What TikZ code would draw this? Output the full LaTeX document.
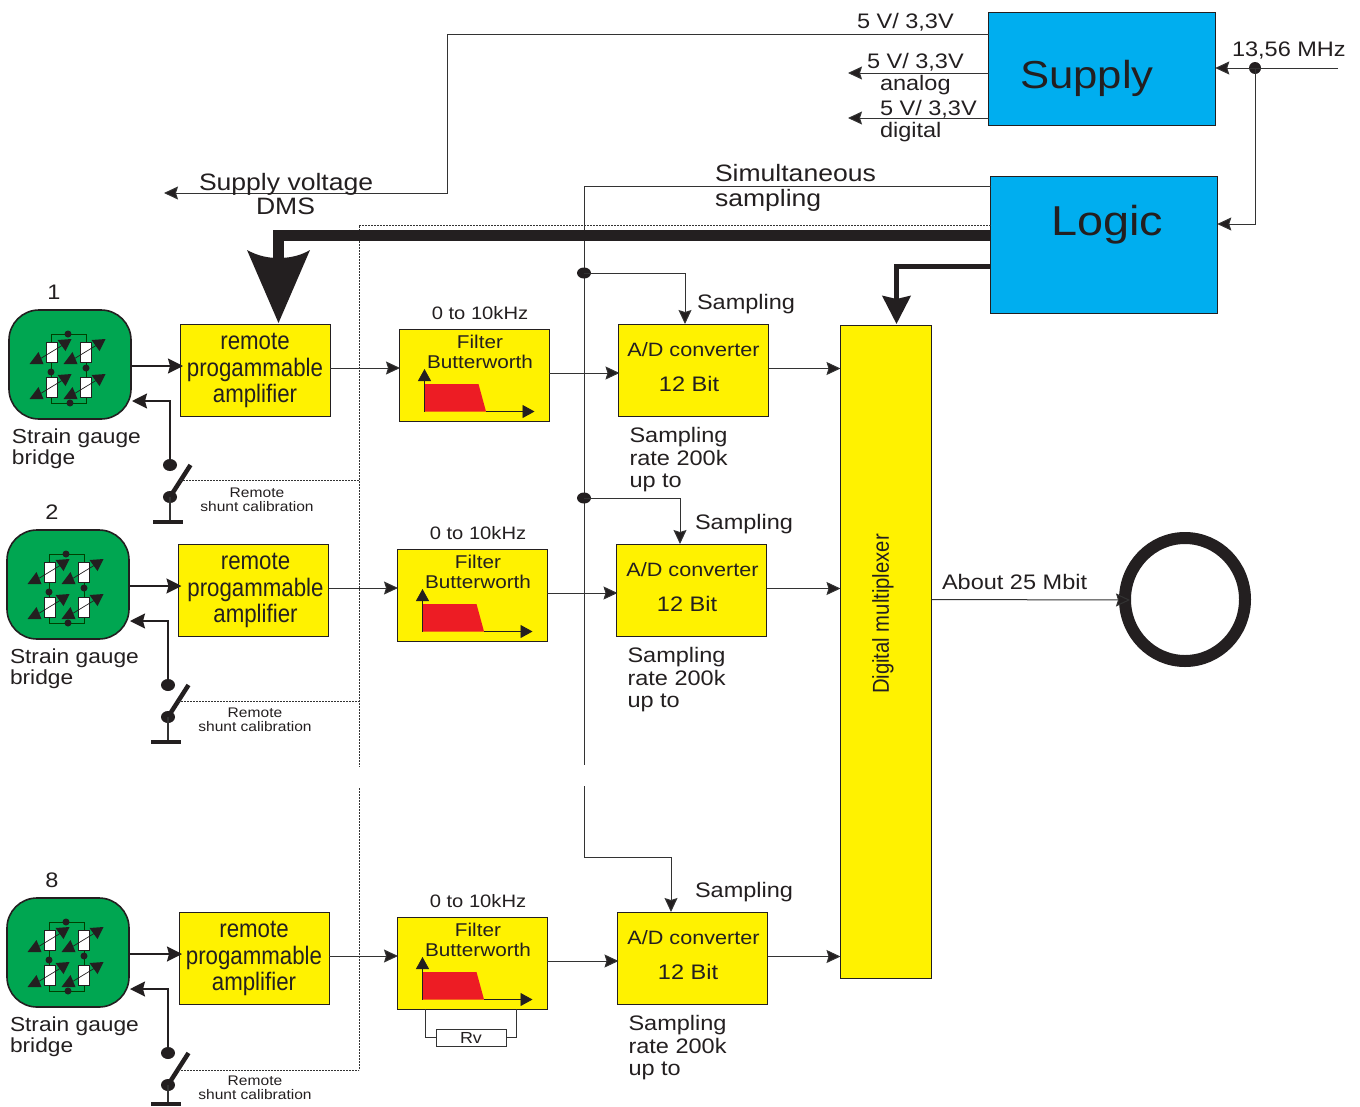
\documentclass[tikz,border=0pt]{standalone}
\usepackage{fontspec}
\setmainfont{Liberation Sans}
\newfontfamily\widef[FakeStretch=1.12]{Liberation Sans}
\newfontfamily\narrowf[FakeStretch=0.88]{Liberation Sans}
\usetikzlibrary{arrows.meta,calc,shapes.geometric}
\definecolor{ink}{HTML}{231F20}
\definecolor{wire}{HTML}{333333}
\definecolor{ybox}{HTML}{FFF200}
\definecolor{bbox}{HTML}{00AEEF}
\definecolor{gbox}{HTML}{00A651}
\definecolor{rfill}{HTML}{ED1C24}
\newcommand\fsz[2]{#1\fontsize{#2}{#2}\selectfont}
\newcommand\ampin{}
\tikzset{
  x=1pt,y=-1pt,
  every node/.style={inner sep=0pt,outer sep=0pt,text=ink},
  lab/.style={font=\fsz{\widef}{#1}},
  lab/.default=21,
  lbl/.style={lab=#1,anchor=base west},
  lbl/.default=21,
  ybx/.style={draw=ink,line width=1pt,fill=ybox},
  bbx/.style={draw=ink,line width=.8pt,fill=bbox},
  ampbx/.style={ybx,minimum width=150pt,minimum height=92pt,align=center,font=\fsz{\narrowf}{25.3},
     execute at begin node={\setlength{\baselineskip}{26.5pt}}},
  filbx/.style={ybx,minimum width=150pt,minimum height=92pt},
  adcbx/.style={ybx,minimum width=150pt,minimum height=92pt},
  bridge/.style={draw=ink,line width=1.6pt,fill=gbox,rounded corners=30pt,minimum width=122pt,minimum height=109pt},
  res/.style={draw=ink,line width=.4pt,fill=white,minimum width=11pt,minimum height=20pt},
  bdot/.style={circle,fill=ink,minimum size=7pt},
  sdot/.style={fill=ink,ellipse,minimum width=14pt,minimum height=12pt},
  wr/.style={draw=wire,line width=1pt},
  arr/.style={wr,-{Stealth[length=14pt,width=13pt,inset=2pt,fill=ink]}},
  thk/.style={draw=ink,line width=2pt,-{Stealth[length=15pt,width=15pt,inset=2pt]}},
  dsh/.style={draw=wire,line width=.8pt,dash pattern=on 2pt off 1pt},
}
% one strain gauge: resistor with diagonal double-ended arrow
\newcommand\gauge[3]{%
  \node[res] (#1) at (#2,#3) {};
  \draw[ink,line width=.7pt] ($(#1)+(-15,9)$) -- ($(#1)+(13,-8)$);
  \fill[ink] ($(#1)+(-22,12)$) -- ($(#1)+(-8,12)$) -- ($(#1)+(-13,0)$) -- cycle;
  \fill[ink] ($(#1)+(6,-12)$) -- ($(#1)+(20,-13)$) -- ($(#1)+(14,-1)$) -- cycle;
}
% #1 suffix, #2 dx, #3 dy, #4 extra dx amp, #5 extra dx adc, #6 ground y, #7 extra dx A/D text
\newcommand\channel[7]{%
\begin{scope}[shift={(#2,#3)}]
  \node[bridge] (br#1) at (70,364.5) {};
  \draw[draw=black!75!green,line width=.8pt] (51,352) -- (51,334) -- (86,334) -- (86,403) -- (51,403) -- (51,352);
  \gauge{ga#1}{51.5}{352}\gauge{gb#1}{85.5}{352}\gauge{gc#1}{51.5}{387}\gauge{gd#1}{85.5}{387}
  \node[bdot] (da#1) at (68,334) {};
  \node[bdot] (db#1) at (51,372) {};
  \node[bdot] (dc#1) at (86,368) {};
  \node[bdot] (dd#1) at (70,403) {};
  \node[lab=21] (num#1) at (54,292) {#1};
  \node[lab=20.3,anchor=west,align=left,execute at begin node={\setlength{\baselineskip}{21.5pt}}] (sg#1) at (12,448.5) {Strain gauge\\bridge};
  \node[ampbx] (amp#1) at (255+#4,370.5) {\ampin remote\\\ampin progammable\\\ampin amplifier};
  \node[filbx] (fil#1) at (474,375) {};
  \node[lab=18.5] (filt#1) at (480,342) {Filter};
  \node[lab=18.5] (filb#1) at (480,362) {Butterworth};
  \node[lab=18] (frq#1) at (480,313) {0 to 10kHz};
  \fill[rfill] (424,384) -- (478.5,384) -- (486,411.5) -- (424,411.5) -- cycle;
  \draw[ink,line width=.8pt,-{Triangle[length=12pt,width=13pt]}] (424.5,411.5) -- (424.5,369);
  \draw[ink,line width=.8pt,-{Triangle[length=12pt,width=13pt]}] (486,411.5) -- (534.5,411.5);
  \node[adcbx] (adc#1) at (693.5+#5,370) {};
  \node[lab=19.3] (adca#1) at (693.5+#5+#7,349.5) {A/D converter};
  \node[lab=21] (adcb#1) at (689+#5,383.5) {12 Bit};
  \node[lab=21,anchor=north west,align=left,execute at begin node={\setlength{\baselineskip}{22.5pt}}] (sr#1) at (629.5+#5,427.5) {Sampling\\rate 200k\\up to};
  \node[lab=13.9] (rm#1) at (257,492.5) {Remote};
  \node[lab=13.9] (sc#1) at (257,506.5) {shunt calibration};
  % switch
  \node[sdot] (st#1) at (170,465) {};
  \node[sdot] (sb#1) at (170,497) {};
  \coordinate (lv#1) at (190.5,465);
  \coordinate (gnd#1) at (168,#6);
  \draw[ink,line width=4.5pt] (sb#1.center) -- (lv#1);
  \draw[wire,line width=1.6pt] (sb#1.center) -- (sb#1.center |- gnd#1);
  \draw[ink,line width=4pt] (153,#6) -- (183,#6);
  \coordinate (fb#1) at (132,401);
  \draw[thk] (st#1.center) |- (fb#1);
  \coordinate (ba#1) at ([yshift=-1.5pt]br#1.east);
  \coordinate (bb#1) at ([xshift=3pt]ba#1 -| amp#1.west);
  \draw[thk] (ba#1) -- (bb#1);
  \coordinate (aa#1) at ([yshift=2.5pt]amp#1.east);
  \coordinate (ab#1) at ([xshift=1pt]aa#1 -| fil#1.west);
  \draw[arr] (aa#1) -- (ab#1);
  \coordinate (fa#1) at ([yshift=2pt]fil#1.east);
  \coordinate (fc#1) at ([xshift=1pt]fa#1 -| adc#1.west);
  \draw[arr] (fa#1) -- (fc#1);
\end{scope}}
\begin{document}
\begin{tikzpicture}
\path[use as bounding box] (0,0) rectangle (1360,1106);
% power and logic blocks
\node[bbx,minimum width=226.5pt,minimum height=113pt] (supply) at (1102,69) {};
\node[lab=39,anchor=base west] (supplyt) at (1020,88) {Supply};
\node[bbx,minimum width=226.5pt,minimum height=137pt] (logic) at (1104,244.5) {};
\node[lab=41.8,anchor=base west] (logict) at (1051,235) {Logic};
\node[ybx,minimum width=91pt,minimum height=653pt] (mux) at (886,651.5) {};
\node[rotate=90,font=\fsz{\narrowf}{23}] (muxt) at (883,614) {Digital multiplexer};
\node[ellipse,draw=ink,line width=12pt,minimum width=120pt,minimum height=123pt] (ring) at (1185,599.5) {};
% dashed control bus
\coordinate (d0) at (359,225);
\coordinate (d1) at (359,767);
\coordinate (d2) at (359,788);
\coordinate (d3) at (359,1070);
\coordinate (dr) at (logic.west |- d0);
\draw[dsh] (dr) -- (d0) -- (d1);
\draw[dsh] (d2) -- (d3);
% channels
\channel{1}{0}{0}{0}{0}{522}{0}
\renewcommand\ampin{\hspace*{4pt}}
\channel{2}{-2}{220}{0.5}{0}{522}{1}
\renewcommand\ampin{}
\channel{8}{-2}{588}{1}{1}{516}{1}
\coordinate (ds1) at (180,480);
\coordinate (ds2) at (178,701);
\coordinate (ds8) at (178,1070);
\draw[dsh] (ds1) -- (ds1 -| d0);
\draw[dsh] (ds2) -- (ds2 -| d0);
\draw[dsh] (ds8) -- (d3);
% Rv
\node[draw=wire,line width=.9pt,minimum width=70pt,minimum height=17pt,font=\fsz{\widef}{16}] (rv) at (471,1037.5) {Rv};
\coordinate (rvl) at (425,1009);
\coordinate (rvr) at (516,1009);
\draw[wr] (rvl) |- (rv.west);
\draw[wr] (rvr) |- (rv.east);
% ADC to mux
\foreach \s in {1,2,8}{
  \coordinate (q\s) at ([yshift=1.5pt]adc\s.east);
  \coordinate (r\s) at (q\s -| mux.west);
  \draw[arr] (q\s) -- (r\s);
}
% Mux to output
\coordinate (mo) at (mux.east |- ring.center);
\coordinate (mi) at (1130,600);
\draw[arr] (mo) -- (mi);
\node[lbl=21] (mbit) at (942,589) {About 25 Mbit};
% supply wires
\coordinate (s1) at (supply.west |- 0,34);
\coordinate (s1a) at (447,34);
\coordinate (s1b) at (447,193);
\coordinate (s1c) at (164,193);
\draw[arr] (s1) -- (s1a) -- (s1b) -- (s1c);
\node[lbl=23.7] (sv1) at (199,190) {Supply voltage};
\node[lbl=23.7] (sv2) at (256,214) {DMS};
\coordinate (s2) at (supply.west |- 0,73);
\coordinate (s2c) at (848,73);
\draw[arr] (s2) -- (s2c);
\coordinate (s3) at (supply.west |- 0,118);
\coordinate (s3c) at (848,118);
\draw[arr] (s3) -- (s3c);
\node[lbl=21] (v0) at (857,28) {5 V/ 3,3V};
\node[lbl=21] (v1) at (867,68) {5 V/ 3,3V};
\node[lbl=21] (v1b) at (880,90) {analog};
\node[lbl=21] (v2) at (880,115) {5 V/ 3,3V};
\node[lbl=21] (v2b) at (880,137) {digital};
% clock
\coordinate (ck) at (1338,68);
\node[circle,fill=ink,minimum size=12pt] (ckd) at (1255,68) {};
\coordinate (cks) at (supply.east |- ck);
\draw[arr] (ck) -- (cks);
\coordinate (ckl) at (logic.east |- 0,224);
\draw[arr] (ckd.center) |- (ckl);
\node[lbl=21] (mhz) at (1232,56) {13,56 MHz};
% simultaneous sampling
\coordinate (sm0) at (logic.west |- 0,186);
\coordinate (sm1) at (584,186);
\coordinate (sm2) at (584,765);
\coordinate (sm3) at (584,786);
\coordinate (sm4) at (584,857);
\coordinate (sm5) at (671,857);
\coordinate (sm6) at (671,912);
\draw[wr] (sm0) -- (sm1) -- (sm2);
\draw[arr] (sm3) -- (sm4) -- (sm5) -- (sm6);
\node[lbl=23.7] (sim1) at (715,181) {Simultaneous};
\node[lbl=23.7] (sim2) at (715,206.5) {sampling};
\node[ellipse,fill=ink,minimum width=14pt,minimum height=11pt] (sd1) at (584,273) {};
\node[ellipse,fill=ink,minimum width=14pt,minimum height=11pt] (sd2) at (584,498) {};
\coordinate (sa1) at (685,273);
\coordinate (sa2) at (680,498);
\coordinate (sb1x) at (685,324);
\coordinate (sb2x) at (680,544);
\draw[arr] (sd1.center) -- (sa1) -- (sb1x);
\draw[arr] (sd2.center) -- (sa2) -- (sb2x);
\node[lbl=21] (sp1) at (697,309) {Sampling};
\node[lbl=21] (sp2) at (695,529) {Sampling};
\node[lbl=21] (sp3) at (695,897) {Sampling};
% thick buses
\coordinate (t0) at (logic.west |- 0,235);
\coordinate (t1) at (278.5,235);
\coordinate (t2) at (278.5,265);
\draw[ink,line width=11pt] (t0) -- (t1) -- (t2);
\coordinate (tip) at (278.5,323);
\fill[ink] (tip) -- (247,250) .. controls (258,256) and (268,258) .. (278.5,258) .. controls (289,258) and (300,256) .. (310,250) -- cycle;
\coordinate (u0) at (logic.west |- 0,266);
\coordinate (u1) at (896.5,266);
\coordinate (u2) at (896.5,324);
\draw[ink,line width=5pt,-{Stealth[length=28pt,width=28pt,inset=3pt]}] (u0) -- (u1) -- (u2);
\end{tikzpicture}
\end{document}
